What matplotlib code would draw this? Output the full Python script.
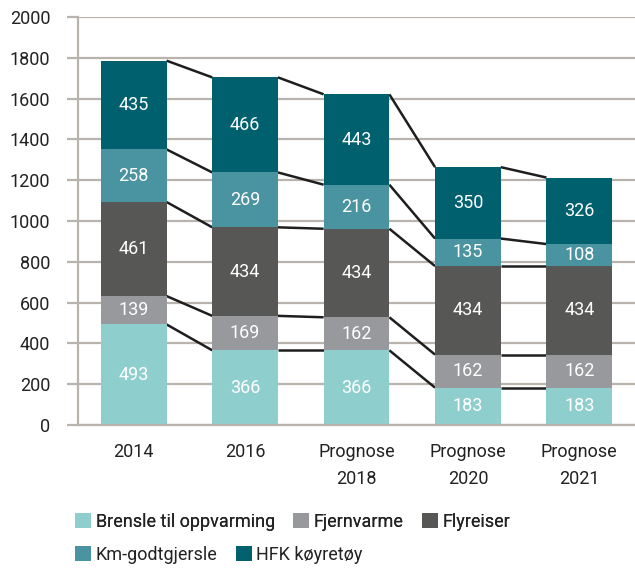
import matplotlib
matplotlib.use("Agg")
import matplotlib.pyplot as plt
import numpy as np
from matplotlib.patches import Patch

plt.rcParams['font.family'] = ['Roboto', 'DejaVu Sans']

categories = ["2014", "2016", "Prognose\n2018", "Prognose\n2020", "Prognose\n2021"]
series_names = ["Brensle til oppvarming", "Fjernvarme", "Flyreiser", "Km-godtgjersle", "HFK køyretøy"]
brensle = [493, 366, 366, 183, 183]
fjernvarme = [139, 169, 162, 162, 162]
flyreiser = [461, 434, 434, 434, 434]
km = [258, 269, 216, 135, 108]
hfk = [435, 466, 443, 350, 326]
colors = ["#8ecfcd", "#97999c", "#575756", "#4a93a0", "#00606e"]
yticks = [0, 200, 400, 600, 800, 1000, 1200, 1400, 1600, 1800, 2000]

series = [brensle, fjernvarme, flyreiser, km, hfk]

fig = plt.figure(figsize=(6.35, 5.68), dpi=100)
ax = fig.add_axes([78/635, 1 - 425/568, 557/635, 408/568])

x = np.arange(len(categories))
width = 0.59
grid_c = "#b8b3ad"
fs = 13

for yv in yticks:
    ax.axhline(yv, color=grid_c, lw=1.6, zorder=0)

bottom = np.zeros(len(categories))
tops = []
for vals, c in zip(series, colors):
    vals = np.array(vals, dtype=float)
    ax.bar(x, vals, width, bottom=bottom, color=c, zorder=2, linewidth=0)
    for xi, v, b in zip(x, vals, bottom):
        ax.text(xi, b + v / 2, f"{int(v)}", ha="center", va="center",
                color="white", fontsize=fs, zorder=3)
    bottom = bottom + vals
    tops.append(bottom.copy())

for t in tops:
    for i in range(len(categories) - 1):
        ax.plot([x[i] + width / 2, x[i + 1] - width / 2], [t[i], t[i + 1]],
                color="#1e1e1e", lw=1.8, zorder=1, solid_capstyle="butt")

ax.set_xlim(-0.5, len(categories) - 0.5)
ax.set_ylim(0, 2000)
ax.set_yticks(yticks)
ax.set_xticks(x)
ax.set_xticklabels(categories, fontsize=fs, color="#222222", linespacing=1.65)
ax.tick_params(axis="x", length=0, pad=13)
ax.tick_params(axis="y", length=8, width=1.6, color=grid_c, pad=12,
               labelsize=fs, labelcolor="#222222")
for s in ["top", "right"]:
    ax.spines[s].set_visible(False)
ax.spines["left"].set_color(grid_c)
ax.spines["left"].set_linewidth(1.6)
ax.spines["bottom"].set_color(grid_c)
ax.spines["bottom"].set_linewidth(1.6)

def legend_row(items, y):
    handles = [Patch(facecolor=colors[i], edgecolor="none") for i in items]
    labels = [series_names[i] for i in items]
    leg = fig.legend(handles, labels, loc="center left",
                     bbox_to_anchor=(75/635, 1 - y/568), ncol=len(items),
                     frameon=False, fontsize=fs, handlelength=0.9,
                     handleheight=0.9, handletextpad=0.25, columnspacing=1.0,
                     borderaxespad=0, borderpad=0)
    for t in leg.get_texts():
        t.set_color("#222222")
    return leg

l1 = legend_row([0, 1, 2], 522)
fig.add_artist(l1)
legend_row([3, 4], 555)

fig.savefig("out.png", dpi=100)
